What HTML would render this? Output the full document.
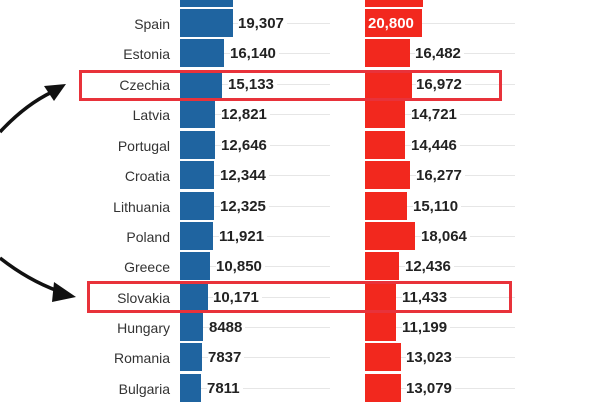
<!DOCTYPE html>
<html><head><meta charset="utf-8"><style>
body{margin:0;width:600px;height:400px;overflow:hidden;background:#fff;font-family:"Liberation Sans",sans-serif;position:relative}
.r{position:absolute;left:0;width:600px;height:28px}
.n{position:absolute;right:430px;top:1px;line-height:28px;font-size:14px;color:#333}
.g{position:absolute;top:14px;height:1px;background:#e6e6e6}
.b{position:absolute;top:0;height:28px;background:#1f64a0}
.d{position:absolute;top:0;height:28px;background:#f2281e}
.v{position:absolute;top:1px;line-height:28px;font-size:15px;font-weight:bold;color:#222;background:#fff;padding-right:3px}
.box{position:absolute;border:3px solid #e8323a;box-sizing:border-box}
</style></head><body>
<div class="r" style="top:-21px"><div class="b" style="left:180px;width:53px"></div><div class="d" style="left:365px;width:58px"></div></div>

<div class="r" style="top:9px"><div class="n">Spain</div><div class="g" style="left:180px;width:150px"></div><div class="g" style="left:365px;width:150px"></div><div class="b" style="left:180px;width:53px"></div><div class="v" style="left:238px">19,307</div><div class="d" style="left:365px;width:57px"></div><div class="v" style="left:368px;color:#fff;background:none">20,800</div></div>
<div class="r" style="top:39px"><div class="n">Estonia</div><div class="g" style="left:180px;width:150px"></div><div class="g" style="left:365px;width:150px"></div><div class="b" style="left:180px;width:44px"></div><div class="v" style="left:230px">16,140</div><div class="d" style="left:365px;width:45px"></div><div class="v" style="left:415px">16,482</div></div>
<div class="r" style="top:70px"><div class="n">Czechia</div><div class="g" style="left:180px;width:150px"></div><div class="g" style="left:365px;width:150px"></div><div class="b" style="left:180px;width:42px"></div><div class="v" style="left:228px">15,133</div><div class="d" style="left:365px;width:47px"></div><div class="v" style="left:416px">16,972</div></div>
<div class="r" style="top:100px"><div class="n">Latvia</div><div class="g" style="left:180px;width:150px"></div><div class="g" style="left:365px;width:150px"></div><div class="b" style="left:180px;width:35px"></div><div class="v" style="left:221px">12,821</div><div class="d" style="left:365px;width:40px"></div><div class="v" style="left:411px">14,721</div></div>
<div class="r" style="top:131px"><div class="n">Portugal</div><div class="g" style="left:180px;width:150px"></div><div class="g" style="left:365px;width:150px"></div><div class="b" style="left:180px;width:35px"></div><div class="v" style="left:221px">12,646</div><div class="d" style="left:365px;width:40px"></div><div class="v" style="left:411px">14,446</div></div>
<div class="r" style="top:161px"><div class="n">Croatia</div><div class="g" style="left:180px;width:150px"></div><div class="g" style="left:365px;width:150px"></div><div class="b" style="left:180px;width:34px"></div><div class="v" style="left:220px">12,344</div><div class="d" style="left:365px;width:45px"></div><div class="v" style="left:416px">16,277</div></div>
<div class="r" style="top:192px"><div class="n">Lithuania</div><div class="g" style="left:180px;width:150px"></div><div class="g" style="left:365px;width:150px"></div><div class="b" style="left:180px;width:34px"></div><div class="v" style="left:220px">12,325</div><div class="d" style="left:365px;width:42px"></div><div class="v" style="left:413px">15,110</div></div>
<div class="r" style="top:222px"><div class="n">Poland</div><div class="g" style="left:180px;width:150px"></div><div class="g" style="left:365px;width:150px"></div><div class="b" style="left:180px;width:33px"></div><div class="v" style="left:219px">11,921</div><div class="d" style="left:365px;width:50px"></div><div class="v" style="left:421px">18,064</div></div>
<div class="r" style="top:252px"><div class="n">Greece</div><div class="g" style="left:180px;width:150px"></div><div class="g" style="left:365px;width:150px"></div><div class="b" style="left:180px;width:30px"></div><div class="v" style="left:216px">10,850</div><div class="d" style="left:365px;width:34px"></div><div class="v" style="left:405px">12,436</div></div>
<div class="r" style="top:283px"><div class="n">Slovakia</div><div class="g" style="left:180px;width:150px"></div><div class="g" style="left:365px;width:150px"></div><div class="b" style="left:180px;width:28px"></div><div class="v" style="left:213px">10,171</div><div class="d" style="left:365px;width:31px"></div><div class="v" style="left:402px">11,433</div></div>
<div class="r" style="top:313px"><div class="n">Hungary</div><div class="g" style="left:180px;width:150px"></div><div class="g" style="left:365px;width:150px"></div><div class="b" style="left:180px;width:23px"></div><div class="v" style="left:209px">8488</div><div class="d" style="left:365px;width:31px"></div><div class="v" style="left:402px">11,199</div></div>
<div class="r" style="top:343px"><div class="n">Romania</div><div class="g" style="left:180px;width:150px"></div><div class="g" style="left:365px;width:150px"></div><div class="b" style="left:180px;width:22px"></div><div class="v" style="left:208px">7837</div><div class="d" style="left:365px;width:36px"></div><div class="v" style="left:406px">13,023</div></div>
<div class="r" style="top:374px"><div class="n">Bulgaria</div><div class="g" style="left:180px;width:150px"></div><div class="g" style="left:365px;width:150px"></div><div class="b" style="left:180px;width:21px"></div><div class="v" style="left:207px">7811</div><div class="d" style="left:365px;width:36px"></div><div class="v" style="left:406px">13,079</div></div>

<div class="box" style="left:79px;top:70px;width:423px;height:31px"></div>
<div class="box" style="left:87px;top:281px;width:425px;height:32px"></div>

<svg style="position:absolute;left:0;top:0" width="120" height="400">
<path d="M0,132 Q25,105 52,92" fill="none" stroke="#111" stroke-width="3.5"/>
<polygon points="66,84 44,86 54,101" fill="#111"/>
<path d="M0,258 Q28,280 58,291" fill="none" stroke="#111" stroke-width="3.5"/>
<polygon points="76,297 54,282 52,302" fill="#111"/>
</svg>
</body></html>
